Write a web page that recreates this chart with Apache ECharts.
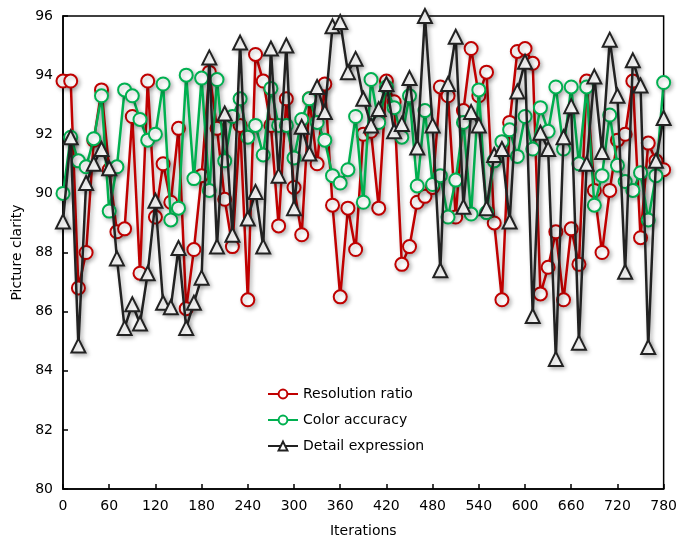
<!DOCTYPE html>
<html>
<head>
<meta charset="utf-8">
<script src="https://cdn.jsdelivr.net/npm/echarts@6/dist/echarts.min.js"></script>
<style>
html,body{margin:0;padding:0;background:#fff;}
#chart{width:680px;height:543px;}
</style>
</head>
<body>
<div id="chart"></div>
<script>
const iterations = [0,10,20,30,40,50,60,70,80,90,100,110,120,130,140,150,160,170,180,190,200,210,220,230,240,250,260,270,280,290,300,310,320,330,340,350,360,370,380,390,400,410,420,430,440,450,460,470,480,490,500,510,520,530,540,550,560,570,580,590,600,610,620,630,640,650,660,670,680,690,700,710,720,730,740,750,760,770,780];

const resolutionRatio = [93.8,93.8,86.8,88.0,91.8,93.5,90.8,88.7,88.8,92.6,87.3,93.8,89.2,91.0,89.7,92.2,86.1,88.1,90.6,94.1,92.2,89.8,88.2,92.3,86.4,94.7,93.8,92.3,88.9,93.2,90.2,88.6,93.2,91.0,93.7,89.6,86.5,89.5,88.1,92.0,92.1,89.5,93.8,93.1,87.6,88.2,89.7,89.9,90.2,93.6,93.3,89.2,92.8,94.9,93.3,94.1,89.0,86.4,92.4,94.8,94.9,94.4,86.6,87.5,88.7,86.4,88.8,87.6,93.8,90.1,88.0,90.1,91.8,92.0,93.8,88.5,91.7,91.1,90.8];

const colorAccuracy = [90.0,91.9,91.1,90.9,91.85,93.3,89.4,90.9,93.5,93.3,92.5,91.8,92.0,93.7,89.1,89.5,94.0,90.5,93.9,90.1,93.85,91.1,92.6,93.2,91.9,92.3,91.3,93.55,92.3,92.3,91.2,92.5,93.2,92.4,91.8,90.6,90.35,90.8,92.6,89.7,93.85,92.4,93.6,92.9,91.9,93.3,90.25,92.8,90.3,90.6,89.2,90.45,92.4,89.3,93.5,89.35,91.1,91.75,92.15,91.25,92.6,91.5,92.9,92.1,93.6,91.5,93.6,91.0,93.6,89.6,90.6,92.65,90.95,90.4,90.1,90.7,89.1,90.6,93.75];

const detailExpression = [89.05,91.9,84.85,90.35,91.0,91.5,90.85,87.8,85.45,86.25,85.6,87.3,89.75,86.3,86.15,88.15,85.45,86.3,87.15,94.6,88.2,92.7,88.6,95.1,89.15,90.05,88.2,94.9,90.6,95.0,89.5,92.25,91.35,93.6,92.75,95.65,95.8,94.1,94.55,93.2,92.3,92.85,93.7,92.1,92.35,93.9,91.55,96.0,92.3,87.4,93.7,95.3,89.55,92.75,92.3,89.5,91.3,91.5,89.05,93.45,94.45,85.85,92.05,91.5,84.4,91.9,92.95,84.95,91.0,93.95,91.4,95.2,93.3,87.35,94.5,93.65,84.8,91.1,92.55];

const seriesNames = ['Resolution ratio','Color accuracy','Detail expression'];
const seriesColors = ['#c00000','#00b050','#222222'];
const seriesSymbols = ['emptyCircle','emptyCircle','emptyTriangle'];
const seriesValues = [resolutionRatio, colorAccuracy, detailExpression];

const FONT = 'DejaVu Sans';
const chart = echarts.init(document.getElementById('chart'), null, {renderer:'canvas'});

const series = seriesNames.map((name, k) => ({
  name: name,
  type: 'line',
  data: iterations.map((x, i) => [x, seriesValues[k][i]]),
  symbol: seriesSymbols[k],
  symbolSize: k === 2 ? 14 : 13,
  showAllSymbol: true,
  z: 2 + k,
  lineStyle: {
    color: seriesColors[k], width: 2.5,
    shadowColor: 'rgba(0,0,0,0.3)', shadowBlur: 4, shadowOffsetX: 2, shadowOffsetY: 2
  },
  itemStyle: {
    color: seriesColors[k], borderColor: seriesColors[k], borderWidth: 2.5,
    shadowColor: 'rgba(0,0,0,0.25)', shadowBlur: 4, shadowOffsetX: 2, shadowOffsetY: 2
  },
  emphasis: {disabled: true},
  animation: false
}));

chart.setOption({
  backgroundColor: '#ffffff',
  animation: false,
  textStyle: {fontFamily: FONT},
  grid: {left: 63, right: 14, top: 16, bottom: 53, show: true, borderColor: '#000', borderWidth: 1.5, backgroundColor: 'transparent'},
  legend: {
    orient: 'vertical', left: 262, top: 382,
    itemWidth: 30, itemHeight: 11, itemGap: 12,
    textStyle: {fontFamily: FONT, fontSize: 14, color: '#000'},
    data: seriesNames
  },
  xAxis: {
    type: 'value', min: 0, max: 780, interval: 60,
    name: 'Iterations', nameLocation: 'middle', nameGap: 35,
    nameTextStyle: {fontFamily: FONT, fontSize: 14, color: '#000'},
    axisLine: {show: true, lineStyle: {color: '#000', width: 1.5}},
    axisTick: {show: true, inside: true, length: 5, lineStyle: {color: '#000', width: 1.5}},
    axisLabel: {fontFamily: FONT, fontSize: 14, color: '#000', margin: 10},
    splitLine: {show: false}
  },
  yAxis: {
    type: 'value', min: 80, max: 96, interval: 2,
    name: 'Picture clarity', nameLocation: 'middle', nameGap: 36,
    nameTextStyle: {fontFamily: FONT, fontSize: 14, color: '#000'},
    axisLine: {show: true, lineStyle: {color: '#000', width: 1.5}},
    axisTick: {show: true, inside: true, length: 5, lineStyle: {color: '#000', width: 1.5}},
    axisLabel: {fontFamily: FONT, fontSize: 14, color: '#000', margin: 10},
    splitLine: {show: false}
  },
  series: series
});
</script>
</body>
</html>
